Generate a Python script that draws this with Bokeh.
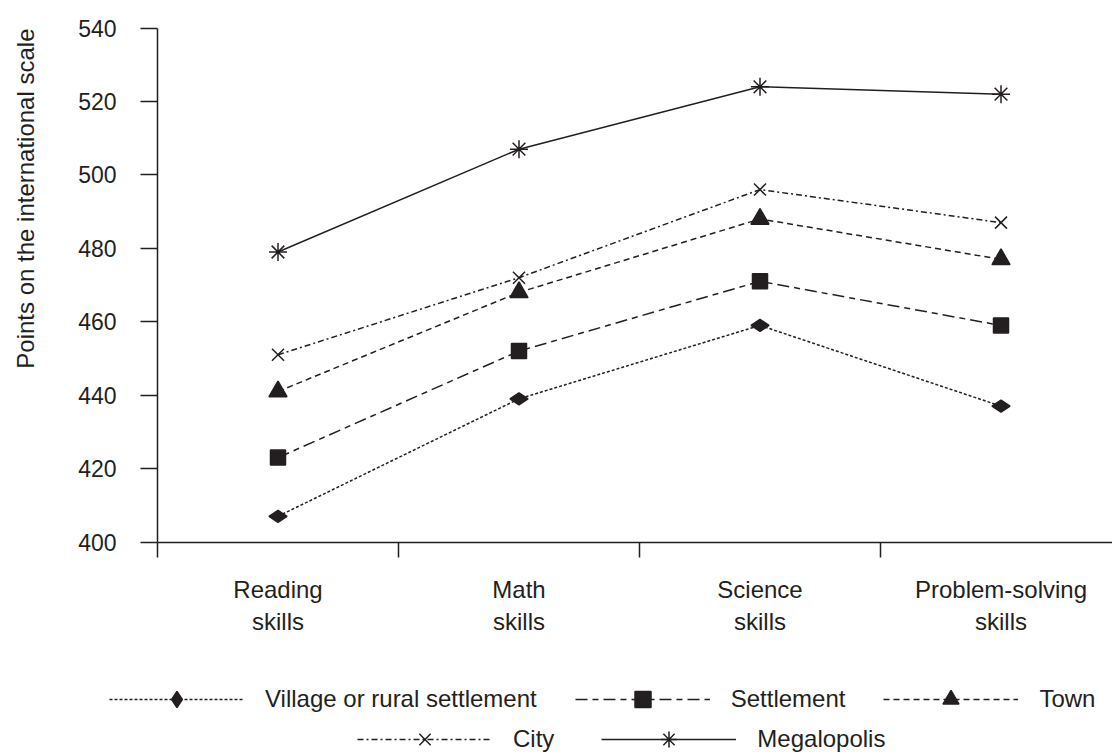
import math
from bokeh.plotting import figure
from bokeh.models import Range1d, FixedTicker, Legend, LegendItem, Label
from bokeh.embed import file_html
from bokeh.resources import INLINE

# ---- data ----
categories = ["Reading\nskills", "Math\nskills", "Science\nskills", "Problem-solving\nskills"]
series_names = ["Village or rural settlement", "Settlement", "Town", "City", "Megalopolis"]
village = [407, 439, 459, 437]
settlement = [423, 452, 471, 459]
town = [441, 468, 488, 477]
city = [451, 472, 496, 487]
megalopolis = [479, 507, 524, 522]
y_ticks = [400, 420, 440, 460, 480, 500, 520, 540]
y_label = "Points on the international scale"

INK = "#231f20"
FONT = "Liberation Sans"

W, H = 1112, 755
# layout (pixels): plot area left edge, px per category, y baseline & px per point
LEFT_PX = 157.0
CAT_PX = 241.0
Y0_PX = 541.5      # canvas y of value 400
PX_PER_UNIT = 3.671

xs = [i + 0.5 for i in range(len(categories))]
bounds = [float(i) for i in range(len(categories))]
x_start = -LEFT_PX / CAT_PX
x_end = (W - LEFT_PX) / CAT_PX
y_min, y_max = y_ticks[0], y_ticks[-1]
y_start = y_min - (H - Y0_PX) / PX_PER_UNIT
y_end = y_min + Y0_PX / PX_PER_UNIT

p = figure(width=W, height=H, output_backend="svg", toolbar_location=None,
           x_range=Range1d(x_start, x_end), y_range=Range1d(y_start, y_end),
           min_border=0, min_border_left=0, min_border_right=0,
           min_border_top=0, min_border_bottom=0)
p.outline_line_color = None
p.xgrid.visible = False
p.ygrid.visible = False
p.background_fill_color = "white"
p.border_fill_color = "white"

# x axis (drawn at value 400)
xa = p.xaxis[0]
xa.fixed_location = y_min
xa.bounds = (0, x_end)
xa.ticker = FixedTicker(ticks=xs, minor_ticks=bounds)
xa.major_label_overrides = {x: c for x, c in zip(xs, categories)}
xa.major_tick_line_color = None
xa.major_tick_out = 0
xa.major_tick_in = 0
xa.minor_tick_out = 15
xa.minor_tick_in = 0
xa.minor_tick_line_color = INK
xa.minor_tick_line_width = 1.5
xa.axis_line_color = INK
xa.axis_line_width = 1.5
xa.major_label_standoff = 19
xa.major_label_text_font = FONT
xa.major_label_text_font_size = "24px"
xa.major_label_text_color = INK

# y axis (drawn at x = 0)
ya = p.yaxis[0]
ya.fixed_location = 0
ya.bounds = (y_min, y_max)
ya.ticker = FixedTicker(ticks=y_ticks)
ya.major_tick_out = 17
ya.major_tick_in = 0
ya.minor_tick_line_color = None
ya.major_tick_line_color = INK
ya.major_tick_line_width = 1.5
ya.axis_line_color = INK
ya.axis_line_width = 1.5
ya.major_label_standoff = 24
ya.major_label_text_font = FONT
ya.major_label_text_font_size = "23px"
ya.major_label_text_color = INK

p.add_layout(Label(x=25, y=H - 28, x_units="screen", y_units="screen",
                   text=y_label, angle=math.pi / 2, text_align="right",
                   text_baseline="middle", text_font=FONT,
                   text_font_size="24px", text_color=INK))

series = [village, settlement, town, city, megalopolis]
dashes = ["3 2", "12 5 6 5", "6 4", "6 3 2 3", "solid"]
markers = ["diamond", "square", "triangle", "x", "asterisk"]
sizes = [18, 15, 18, 17, 18]
angles = [math.pi / 2, 0, 0, 0, 0]

items = []
for name, ys, dash, mk, sz, ang in zip(series_names, series, dashes, markers, sizes, angles):
    rl = p.line(xs, ys, line_color=INK, line_width=1.5, line_dash=dash)
    rm = p.scatter(xs, ys, marker=mk, size=sz, angle=ang, fill_color=INK,
                   line_color=INK, line_width=1.5)
    items.append(LegendItem(label=name, renderers=[rl, rm]))

common = dict(orientation="horizontal", glyph_width=135, glyph_height=40,
              label_height=40, label_standoff=21, padding=0, margin=0,
              border_line_color=None, background_fill_alpha=0,
              label_text_font=FONT, label_text_font_size="24px",
              label_text_color=INK)
leg1 = Legend(items=items[:3], location=(109, 36), spacing=38, **common)
leg2 = Legend(items=items[3:], location=(357, -4), spacing=47, **common)
p.add_layout(leg1)
p.add_layout(leg2)

open("out.html", "w").write(file_html(p, INLINE))
